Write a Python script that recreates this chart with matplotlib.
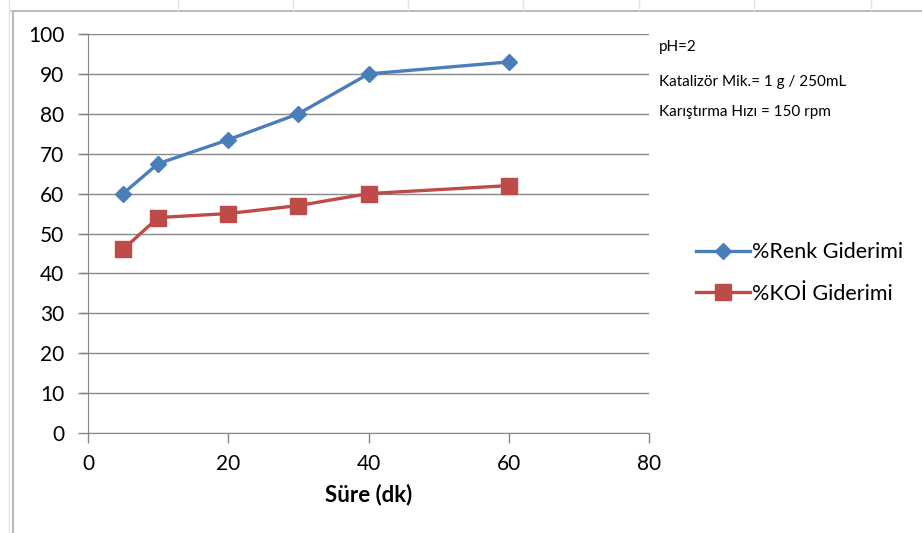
import matplotlib.pyplot as plt
from matplotlib.lines import Line2D

plt.rcParams['font.family'] = ['Lato', 'DejaVu Sans']

sure = [5, 10, 20, 30, 40, 60]
renk = [60, 67.5, 73.5, 80, 90, 93]
koi = [46, 54, 55, 57, 60, 62]

x_ticks = [0, 20, 40, 60, 80]
y_ticks = list(range(0, 101, 10))

notes = ["pH=2", "Katalizör Mik.= 1 g / 250mL", "Karıştırma Hızı = 150 rpm"]

blue = '#4A7EBB'
red = '#BE4B48'
grid = '#888888'

W, H = 922, 533
fig = plt.figure(figsize=(W / 100, H / 100), dpi=100)

# sheet frame around the chart
fig.add_artist(Line2D([12 / W, 1], [1 - 11 / H, 1 - 11 / H], color='#BBBBBB', lw=1.5))
fig.add_artist(Line2D([12.5 / W, 12.5 / W], [0, 1 - 11 / H], color='#BBBBBB', lw=1.5))
fig.add_artist(Line2D([8.5 / W, 8.5 / W], [0, 1], color='#DCE3EC', lw=1))
for cx in [178, 293, 408, 523, 639, 754, 871]:
    fig.add_artist(Line2D([cx / W, cx / W], [1 - 10 / H, 1], color='#DCE3EC', lw=1))

ax = fig.add_axes([88 / W, 100 / H, (649 - 88) / W, (433 - 34) / H])

ax.plot(sure, renk, color=blue, lw=2.4, marker='D', ms=8.5, label='%Renk Giderimi')
ax.plot(sure, koi, color=red, lw=2.4, marker='s', ms=12, label='%KOİ Giderimi')

ax.set_xlim(0, 80)
ax.set_ylim(0, 100)
ax.set_xticks(x_ticks)
ax.set_yticks(y_ticks)
ax.grid(axis='y', color=grid, lw=1)
ax.set_axisbelow(True)
for side in ['top', 'right']:
    ax.spines[side].set_visible(False)
for side in ['left', 'bottom']:
    ax.spines[side].set_color(grid)
ax.tick_params(axis='both', colors=grid, length=7, width=1, labelsize=15,
               labelcolor='black')
ax.tick_params(axis='y', pad=10)
ax.tick_params(axis='x', pad=8)

# gridlines reach out past the axis like the tick marks
for yv in y_ticks[1:]:
    ax.plot([-1.0, 0], [yv, yv], color=grid, lw=1, clip_on=False)

ax.set_xlabel('Süre (dk)', fontsize=16, fontweight='bold', labelpad=7)

for i, t in enumerate(notes):
    fig.text(659 / W, 1 - [47, 82, 112][i] / H, t, fontsize=11, va='center')

ax.legend(loc='center left', bbox_to_anchor=(677 / W, 1 - 273 / H),
          bbox_transform=fig.transFigure, frameon=False, fontsize=15.5,
          handlelength=2.5, handletextpad=0.1, labelspacing=1.0)

fig.savefig('out.png', dpi=100)
